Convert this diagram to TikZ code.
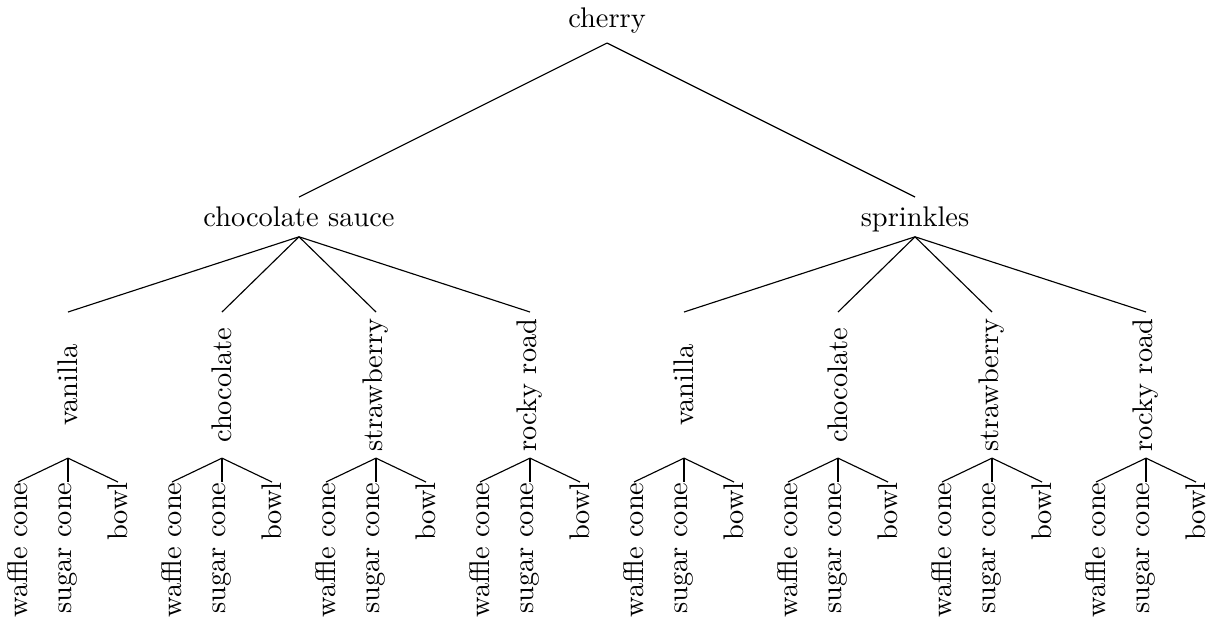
\documentclass[tikz,border=0pt]{standalone}
\begin{document}
\begin{tikzpicture}[x=0.3521pt,y=-0.3521pt,
  topbox/.style={anchor=north,text height=6.94pt,text depth=0pt},
  flavour/.style={rotate=90,anchor=east,inner sep=0pt,minimum width=51.05pt},
  leaf/.style={rotate=90,anchor=east,inner sep=0pt},
  branch/.style={line width=0.4pt}]
\useasboundingbox (0,0) rectangle (1208,624);
\node[anchor=south] (r) at (607,43) {cherry};
\node[topbox] (a) at (299,197) {chocolate sauce};
\node[topbox] (b) at (915,197) {sprinkles};
\draw[branch] (r.south) -- (a.north);
\draw[branch] (r.south) -- (b.north);
\foreach \n/\x/\t/\p in {1/68/vanilla/a, 2/222/chocolate/a, 3/376/strawberry/a, 4/530/rocky road/a,
                         5/684/vanilla/b, 6/838/chocolate/b, 7/992/strawberry/b, 8/1146/rocky road/b} {
  \node[flavour] (f\n) at (\x,312) {\t};
  \draw[branch] (\p.south) -- (f\n.east);
  \node[leaf] (w\n) at (\x-50,482) {waffle cone};
  \node[leaf] (s\n) at (\x,482) {sugar cone};
  \node[leaf] (o\n) at (\x+50,482) {bowl};
  \draw[branch] (f\n.west) -- (w\n.east);
  \draw[branch] (f\n.west) -- (s\n.east);
  \draw[branch] (f\n.west) -- (o\n.east);
}
\end{tikzpicture}
\end{document}
